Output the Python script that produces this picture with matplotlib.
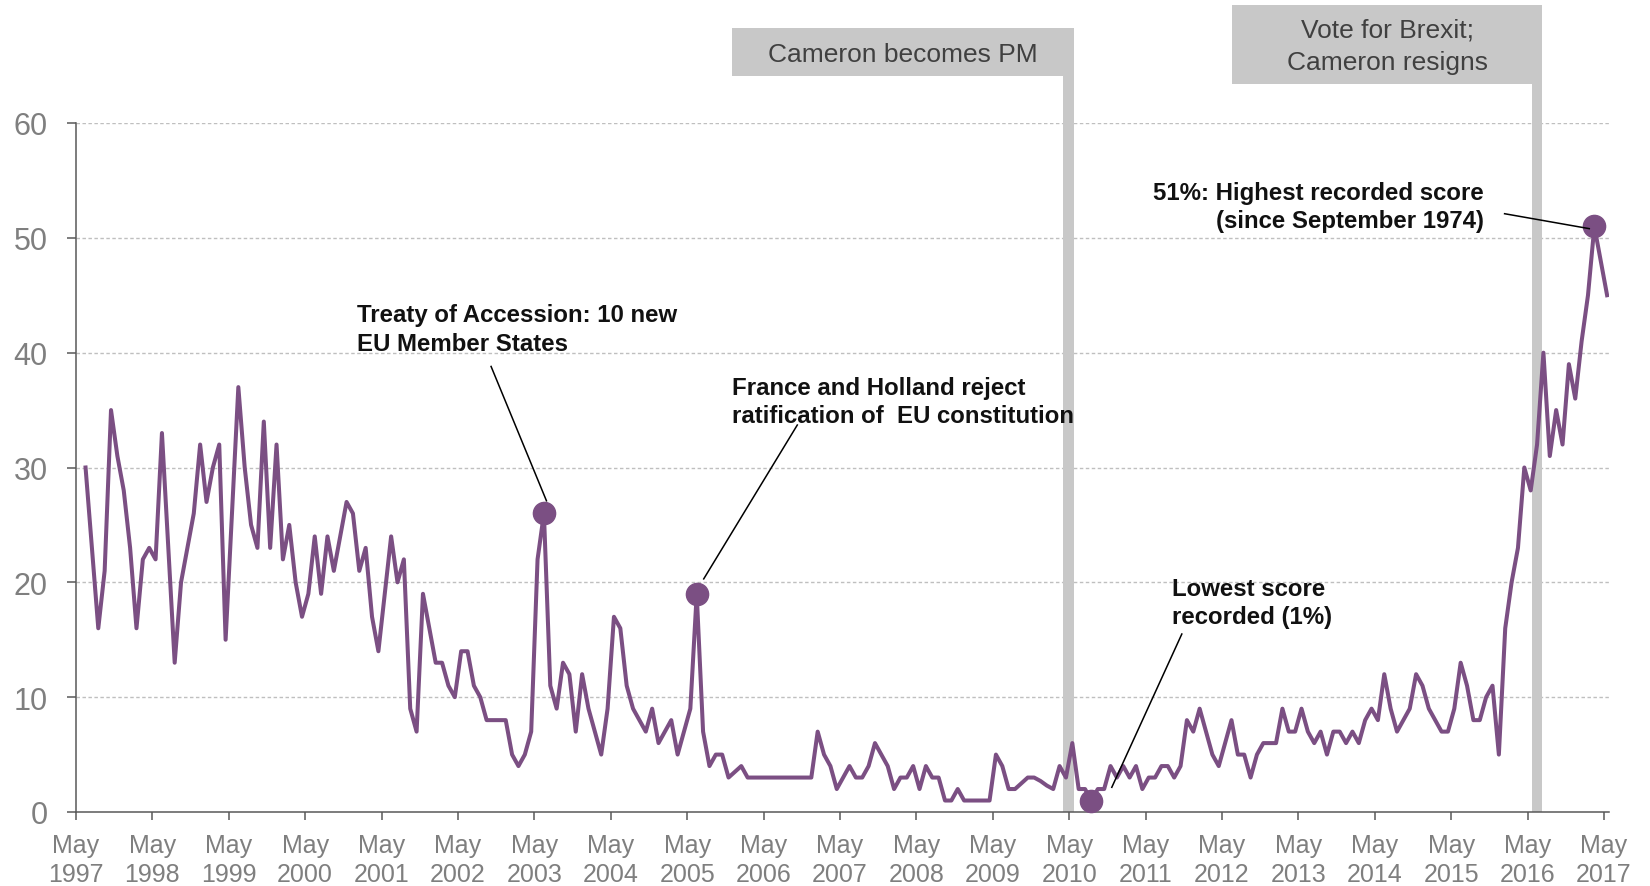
"""EU / Europe as an important issue facing Britain, May 1997 - May 2017.

Monthly share of respondents (%) naming Europe / the EU, with the two
Cameron events drawn as grey bands and four annotated readings.

Writes out.png (1650 x 887).
"""

import matplotlib

matplotlib.use("Agg")
import matplotlib.pyplot as plt
import numpy as np
from matplotlib.patches import Rectangle

plt.rcParams["font.family"] = ["Liberation Sans", "DejaVu Sans"]

PURPLE = "#7b4f83"
BAND_GREY = "#c8c8c8"
GRID_GREY = "#bfbfbf"
AXIS_GREY = "#595959"
TICK_TEXT = "#7f7f7f"

# ----- data -----
# one reading per month
eu_score = [
    30, 23, 16, 21, 35, 31, 28, 23, 16, 22,
    23, 22, 33, 23, 13, 20, 23, 26, 32, 27,
    30, 32, 15, 26, 37, 30, 25, 23, 34, 23,
    32, 22, 25, 20, 17, 19, 24, 19, 24, 21,
    24, 27, 26, 21, 23, 17, 14,
    19, 24, 20, 22, 9, 7, 19, 16, 13, 13,
    11, 10, 14, 14, 11, 10, 8, 8, 8, 8,
    5, 4, 5, 7, 22, 26, 11, 9, 13, 12,
    7, 12, 9, 7, 5, 9, 17, 16, 11, 9,
    8, 7, 9, 6, 7, 8, 5, 7, 9, 19,
    7, 4, 5, 5, 3, 3.5, 4, 3, 3, 3,
    3, 3, 3, 3, 3, 3, 3, 3, 7, 5,
    4, 2, 3, 4, 3, 3, 4, 6, 5, 4,
    2, 3, 3, 4, 2, 4, 3, 3, 1, 1,
    2, 1, 1, 1, 1, 1, 5, 4, 2, 2,
    2.5, 3, 3, 2.7, 2.3, 2, 4, 3, 6, 2,
    2, 1, 2, 2, 4, 3, 4, 3, 4, 2,
    3, 3, 4, 4, 3, 4, 8, 7, 9, 7,
    5, 4, 6, 8, 5, 5, 3, 5, 6, 6,
    6, 9, 7, 7, 9, 7, 6, 7, 5, 7,
    7, 6, 7, 6, 8, 9, 8, 12, 9, 7,
    8, 9, 12, 11, 9, 8, 7, 7,
    9, 13, 11, 8, 8, 10, 11, 5, 16, 20,
    23, 30, 28, 32, 40, 31, 35, 32, 39, 36,
    41, 45, 51, 48, 45,
]
tick_years = list(range(1997, 2018))
tick_labels = [f"May\n{y}" for y in tick_years]

# readings picked out with a dot (index into eu_score)
highlight_idx = [72, 96, 158, 237]

# events: month (after May 1997) of the band and its label
event_months = [155.9, 229.5]
event_labels = ["Cameron becomes PM", "Vote for Brexit;\nCameron resigns"]

annot_texts = [
    "Treaty of Accession: 10 new\nEU Member States",
    "France and Holland reject\nratification of  EU constitution",
    "Lowest score\nrecorded (1%)",
    "51%: Highest recorded score\n(since September 1974)",
]

# ----- layout (months after May 1997, percent) -----
FIRST_MONTH = 1.5          # first reading sits 1.5 months right of the May 1997 tick
BAND_HALF = 0.8
EVENT_BOXES = [            # (left, right, bottom, top)
    (103.1, 156.7, 64.1, 68.3),
    (181.6, 230.3, 63.4, 70.3),
]
ANNOT_POS = [              # (x, last-line baseline, ha)
    (44.1, 40.24, "left"),
    (103.1, 33.95, "left"),
    (172.2, 16.42, "left"),
    (221.1, 50.93, "right"),
]
ANNOT_LINES = [            # connector (x0, y0, x1, y1)
    (65.2, 38.8, 73.9, 27.1),
    (113.3, 33.7, 98.6, 20.3),
    (173.7, 15.5, 162.7, 2.15),
    (224.4, 52.1, 237.7, 50.8),
]


def main() -> None:
    months = np.arange(len(eu_score)) + FIRST_MONTH
    scores = np.asarray(eu_score, dtype=float)

    fig = plt.figure(figsize=(16.5, 8.87), dpi=100)
    ax = fig.add_axes([76 / 1650, 74 / 887, 1533 / 1650, 689 / 887])
    ax.set_xlim(0, 240.8)
    ax.set_ylim(0, 60)

    # gridlines
    for v in range(10, 61, 10):
        ax.axhline(v, color=GRID_GREY, lw=1.0, ls=(0, (2.5, 1.8)), zorder=0.5)

    # event bands + label boxes (sit above the plot area)
    for m, label, (x0, x1, y0, y1) in zip(event_months, event_labels, EVENT_BOXES):
        ax.add_patch(Rectangle((m - BAND_HALF, 0), 2 * BAND_HALF, y0,
                               facecolor=BAND_GREY, lw=0, clip_on=False, zorder=1))
        ax.add_patch(Rectangle((x0, y0), x1 - x0, y1 - y0,
                               facecolor=BAND_GREY, lw=0, clip_on=False, zorder=1))
        ax.text((x0 + x1) / 2, (y0 + y1) / 2 - 0.15, label, ha="center", va="center",
                fontsize=19, color="#404040", linespacing=1.43, clip_on=False)

    ax.plot(months, scores, color=PURPLE, lw=2.9, zorder=3)
    ax.plot(months[highlight_idx], scores[highlight_idx], "o", ms=16,
            color=PURPLE, zorder=4, clip_on=False)

    for text, (x, y, ha), (lx0, ly0, lx1, ly1) in zip(annot_texts, ANNOT_POS, ANNOT_LINES):
        ax.text(x, y, text, ha=ha, va="baseline", fontsize=17.3, fontweight="bold",
                color="#111111", linespacing=1.31, multialignment=ha)
        ax.plot([lx0, lx1], [ly0, ly1], color="black", lw=1.1, zorder=5)

    # axes
    ax.set_yticks(range(0, 61, 10))
    ax.set_xticks(range(0, 241, 12))
    ax.set_xticklabels(tick_labels)
    for lbl in ax.get_xticklabels():
        lbl.set_linespacing(1.28)
    ax.tick_params(axis="y", length=6.7, width=1.1, color=AXIS_GREY,
                   labelsize=22, labelcolor=TICK_TEXT, pad=13.7)
    ax.tick_params(axis="x", length=5.8, width=1.1, color=AXIS_GREY,
                   labelsize=18, labelcolor=TICK_TEXT, pad=9.3)
    for side in ("top", "right"):
        ax.spines[side].set_visible(False)
    for side in ("left", "bottom"):
        ax.spines[side].set_color(AXIS_GREY)
        ax.spines[side].set_linewidth(1.1)

    fig.savefig("out.png", dpi=100)
    plt.close(fig)


if __name__ == "__main__":
    main()
